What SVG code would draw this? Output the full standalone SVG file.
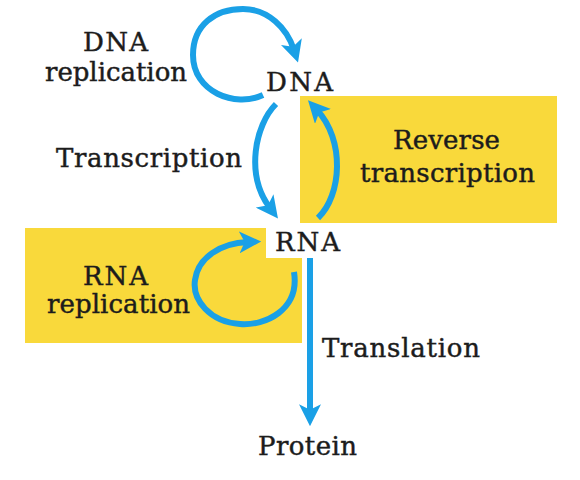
<svg xmlns="http://www.w3.org/2000/svg" width="580" height="480" viewBox="0 0 580 480">
<style>
text{font-family:"DejaVu Serif","Liberation Serif",serif;font-size:26px;fill:#1c1c1c;stroke:#1c1c1c;stroke-width:0.45}
.box{fill:#F9D93B}
.arr{fill:none;stroke:#1AA0E6;stroke-width:6}
</style>
<defs>
<marker id="ah" viewBox="0 0 20 20" refX="8" refY="10" markerWidth="22" markerHeight="22" markerUnits="userSpaceOnUse" orient="auto">
<path d="M0,0 L20,10 L0,20 L5,10 z" fill="#1AA0E6"/>
</marker>
</defs>
<rect width="580" height="480" fill="#ffffff"/>
<g id="reverse-transcription-box">
<rect class="box" x="300" y="96" width="257" height="127"/>
<text x="393" y="149" textLength="107" lengthAdjust="spacing">Reverse</text>
<text x="360" y="182" textLength="175" lengthAdjust="spacing">transcription</text>
</g>
<g id="rna-replication-box">
<rect class="box" x="25" y="228" width="277" height="115"/>
<text x="83" y="285" textLength="65" lengthAdjust="spacing">RNA</text>
<text x="47" y="313" textLength="143" lengthAdjust="spacing">replication</text>
</g>
<g id="dna-replication-label">
<text x="83" y="51" textLength="65" lengthAdjust="spacing">DNA</text>
<text x="45" y="81" textLength="142" lengthAdjust="spacing">replication</text>
</g>
<g id="transcription-label">
<text x="56" y="167" textLength="186" lengthAdjust="spacing">Transcription</text>
</g>
<g id="translation-label">
<text x="322" y="357" textLength="158" lengthAdjust="spacing">Translation</text>
</g>
<g id="node-dna">
<text x="266" y="91" textLength="67" lengthAdjust="spacing">DNA</text>
</g>
<g id="node-rna">
<rect x="266" y="226" width="80" height="32" fill="#ffffff"/>
<text x="275" y="251" textLength="65" lengthAdjust="spacing">RNA</text>
</g>
<g id="node-protein">
<text x="258" y="455" textLength="99" lengthAdjust="spacing">Protein</text>
</g>
<g id="connectors">
<path class="arr" marker-end="url(#ah)" d="M263 95 C235 108,193 92,193 55 C193 25,215 9,243 9 C268 9,287 28,294 50"/>
<path class="arr" marker-end="url(#ah)" d="M276 104 C255 125,245 175,270 208"/>
<path class="arr" marker-end="url(#ah)" d="M318 218 C342 195,345 140,317 110"/>
<path class="arr" marker-end="url(#ah)" d="M294 272 C300 310,265 326,240 324 C210 322,192 300,195 280 C198 258,220 243,248 242"/>
<path class="arr" marker-end="url(#ah)" d="M310 258 L310 413"/>
</g>
</svg>
